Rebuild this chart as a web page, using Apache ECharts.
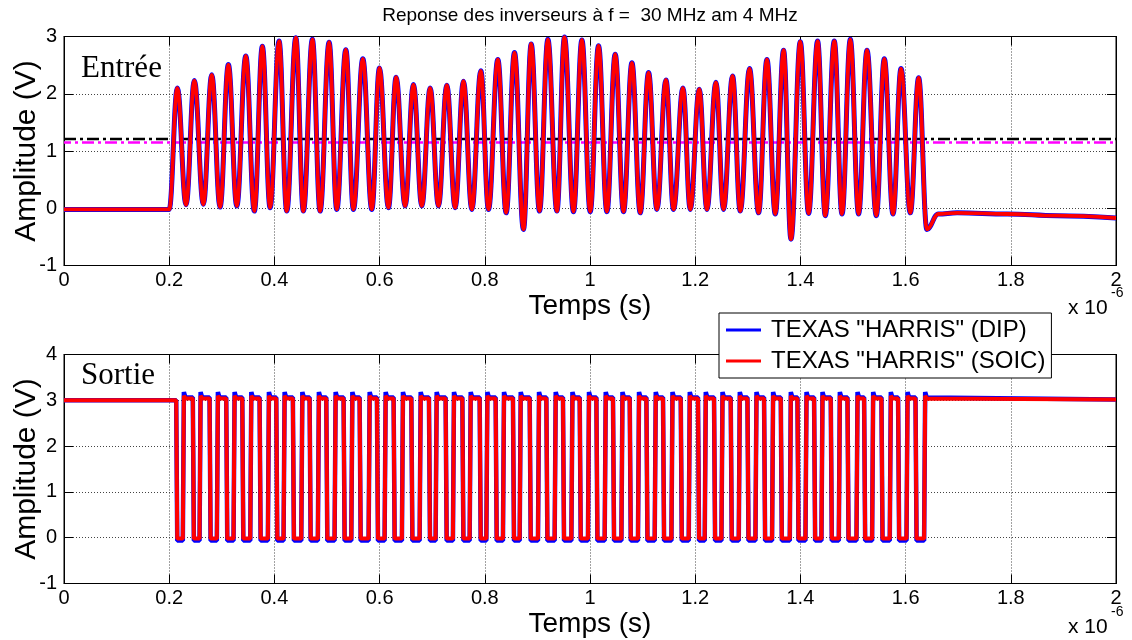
<!DOCTYPE html>
<html><head><meta charset="utf-8">
<script src="https://cdn.jsdelivr.net/npm/echarts@6/dist/echarts.min.js"></script>
<style>html,body{margin:0;padding:0;background:#fff}#c{width:1132px;height:640px}</style>
</head><body><div id="c"></div>
<script>
// ---------- data (time in µs, amplitude in V) ----------
const xTicks = [0, 0.2, 0.4, 0.6, 0.8, 1, 1.2, 1.4, 1.6, 1.8, 2];
const seriesNames = ['TEXAS "HARRIS" (DIP)', 'TEXAS "HARRIS" (SOIC)'];

// Input (Entrée): baseline before burst
const inLead = [[0, -0.02], [0.2, -0.02]];
// carrier peaks
const inPeakT = [0.2155,0.2478,0.2809,0.3125,0.3456,0.3771,0.4089,0.4407,0.4722,0.5040,0.5358,0.5681,0.5997,0.6314,0.6643,0.6961,0.7278,0.7594,0.7925,0.8248,0.8564,0.8882,0.9199,0.9515,0.9846,1.0162,1.0479,1.0797,1.1113,1.1444,1.1767,1.2077,1.2394,1.2710,1.3033,1.3364,1.3680,1.3998,1.4327,1.4644,1.4949,1.5266,1.5595,1.5913,1.6248];
const inPeakV = [2.10,2.23,2.33,2.51,2.66,2.83,2.92,2.98,2.95,2.90,2.77,2.61,2.45,2.29,2.16,2.10,2.15,2.22,2.40,2.60,2.72,2.87,2.95,2.99,2.94,2.84,2.69,2.54,2.37,2.24,2.10,2.08,2.20,2.31,2.44,2.60,2.76,2.91,2.92,2.92,2.95,2.76,2.61,2.44,2.28];
// carrier troughs (between peaks)
const inTroughT = [0.2320,0.2649,0.2967,0.3285,0.3619,0.3918,0.4235,0.4551,0.4869,0.5186,0.5502,0.5852,0.6168,0.6485,0.6803,0.7119,0.7436,0.7754,0.8070,0.8406,0.8735,0.9040,0.9371,0.9686,1.0004,1.0321,1.0637,1.0955,1.1272,1.1588,1.1906,1.2223,1.2539,1.2857,1.3205,1.3522,1.3821,1.4156,1.4473,1.4791,1.5106,1.5443,1.5761,1.6090];
const inTroughV = [0.06,0.07,0.02,0.04,-0.05,0.01,-0.05,-0.05,-0.05,-0.02,-0.02,-0.02,0.01,0.04,0.04,0.04,0.01,-0.02,-0.02,-0.08,-0.37,-0.05,-0.05,-0.06,-0.06,-0.06,-0.06,-0.08,-0.02,-0.02,-0.02,-0.02,-0.02,-0.05,-0.08,-0.10,-0.54,-0.09,-0.13,-0.10,-0.10,-0.13,-0.10,-0.08];
// after burst
const inTail = [[1.6405, -0.37], [1.662, -0.10], [1.698, -0.08], [1.793, -0.10], [1.888, -0.13], [2.0, -0.17]];
// threshold dash-dot lines
const thresholdBlack = 1.21;
const thresholdMagenta = 1.15;

// Output (Sortie): falling / rising edge times of each low pulse
const outFallT = [0.2143,0.2459,0.2777,0.3094,0.3399,0.3728,0.4045,0.4361,0.4679,0.4996,0.5325,0.5630,0.5959,0.6276,0.6613,0.6948,0.7265,0.7583,0.7912,0.8216,0.8545,0.8863,0.9180,0.9496,0.9814,1.0131,1.0447,1.0765,1.1082,1.1398,1.1735,1.2063,1.2368,1.2685,1.3003,1.3319,1.3637,1.3954,1.4270,1.4587,1.4905,1.5221,1.5551,1.5867,1.6198];
const outRiseT = [0.2269,0.2587,0.2916,0.3233,0.3551,0.3886,0.4184,0.4521,0.4836,0.5154,0.5472,0.5801,0.6105,0.6434,0.6771,0.7075,0.7404,0.7722,0.8039,0.8355,0.8673,0.9021,0.9338,0.9656,0.9971,1.0289,1.0607,1.0922,1.1240,1.1558,1.1887,1.2191,1.2509,1.2838,1.3155,1.3471,1.3808,1.4106,1.4410,1.4740,1.5076,1.5373,1.5709,1.6027,1.6362];
const outStartLevel = 3.0;
const outEndLevel = 3.02;
const soicLevels = {high: 3.04, over: 3.10, low: -0.02};
const dipLevels  = {high: 3.06, over: 3.18, low: -0.06};

// ---------- build series data from the arrays ----------
function buildInput() {
  const pts = inLead.slice();
  for (let i = 0; i < inPeakT.length; i++) {
    pts.push([inPeakT[i], inPeakV[i]]);
    if (i < inTroughT.length) pts.push([inTroughT[i], inTroughV[i]]);
  }
  return pts.concat(inTail);
}
function buildOutput(lv) {
  const e = 0.001;
  const pts = [[0, outStartLevel]];
  let level = outStartLevel;
  for (let i = 0; i < outFallT.length; i++) {
    pts.push([outFallT[i] - e, level]);
    pts.push([outFallT[i] + e, lv.low]);
    pts.push([outRiseT[i] - e, lv.low]);
    pts.push([outRiseT[i] + e, lv.over]);
    pts.push([outRiseT[i] + 4 * e, lv.high]);
    level = lv.high;
  }
  pts.push([2, outEndLevel]);
  return pts;
}
const inputData = buildInput();

const FONT = '"Liberation Sans", Arial, Helvetica, sans-serif';
const SERIF = '"Liberation Serif", "Times New Roman", serif';
const grids = [
  {left: 64, top: 36.5, width: 1052, height: 229, show: true, borderColor: '#000', borderWidth: 1, backgroundColor: '#fff',
   containLabel: false, outerBoundsMode: 'none'},
  {left: 64, top: 354.5, width: 1052, height: 229, show: true, borderColor: '#000', borderWidth: 1, backgroundColor: '#fff',
   containLabel: false, outerBoundsMode: 'none'}
];
const gridLine = {show: true, lineStyle: {color: '#444', type: [1, 2], width: 1}};
function xAxes(g) {
  return [
    {gridIndex: g, type: 'value', min: xTicks[0], max: xTicks[xTicks.length - 1], interval: 0.2, position: 'bottom',
     axisLine: {show: true, onZero: false, lineStyle: {color: '#000', width: 1}},
     axisTick: {show: true, inside: true, length: 9, lineStyle: {color: '#000'}},
     axisLabel: {show: true, fontSize: 20, color: '#000', margin: 5, fontFamily: FONT, showMinLabel: true, showMaxLabel: true},
     splitLine: gridLine,
     name: 'Temps (s)', nameLocation: 'middle', nameGap: 27, nameMoveOverlap: false,
     nameTextStyle: {fontSize: 28, color: '#000', fontFamily: FONT}},
    {gridIndex: g, type: 'value', min: 0, max: 2, interval: 0.2, position: 'top',
     axisLine: {show: true, onZero: false, lineStyle: {color: '#000'}},
     axisTick: {show: true, inside: true, length: 9, lineStyle: {color: '#000'}},
     axisLabel: {show: false}, splitLine: {show: false}}
  ];
}
function yAxes(g, min, max) {
  return [
    {gridIndex: g, type: 'value', min: min, max: max, interval: 1, position: 'left',
     axisLine: {show: true, onZero: false, lineStyle: {color: '#000'}},
     axisTick: {show: true, inside: true, length: 9, lineStyle: {color: '#000'}},
     axisLabel: {show: true, fontSize: 20, color: '#000', margin: 7, fontFamily: FONT, showMinLabel: true, showMaxLabel: true},
     splitLine: gridLine,
     name: 'Amplitude (V)', nameLocation: 'middle', nameGap: 22, nameRotate: 90, nameMoveOverlap: false,
     nameTextStyle: {fontSize: 30, color: '#000', fontFamily: FONT}},
    {gridIndex: g, type: 'value', min: min, max: max, interval: 1, position: 'right',
     axisLine: {show: true, onZero: false, lineStyle: {color: '#000'}},
     axisTick: {show: true, inside: true, length: 9, lineStyle: {color: '#000'}},
     axisLabel: {show: false}, splitLine: {show: false}}
  ];
}
const dashDot = [12, 4, 3, 4];
function txt(x, y, text, size, family, va) {
  return {type: 'text', x: x, y: y, z: 30,
          style: {text: text, verticalAlign: va || 'middle', fontSize: size, fontFamily: family, fill: '#000'}};
}

const option = {
  animation: false,
  backgroundColor: '#fff',
  grid: grids,
  xAxis: xAxes(0).concat(xAxes(1)),
  yAxis: yAxes(0, -1, 3).concat(yAxes(1, -1, 4)),
  legend: {
    data: seriesNames, orient: 'vertical', left: 719, top: 313,
    padding: [3, 6, 3, 7], itemGap: 3, itemWidth: 35, itemHeight: 3, icon: 'rect',
    backgroundColor: '#fff', borderColor: '#000', borderWidth: 1, z: 20,
    textStyle: {fontSize: 24, color: '#000', fontFamily: FONT, lineHeight: 28, padding: [0, 0, 0, 5]}
  },
  graphic: [
    {type: 'text', x: 590, y: 16, z: 30,
     style: {text: 'Reponse des inverseurs à f =  30 MHz am 4 MHz', align: 'center', verticalAlign: 'middle',
             fontSize: 19, fontFamily: FONT, fill: '#000'}},
    txt(81, 69, 'Entrée', 31, SERIF),
    txt(81, 376, 'Sortie', 31, SERIF),
    txt(1068, 308, 'x 10', 21, FONT),
    txt(1111, 293, '-6', 14, FONT),
    txt(1068, 627, 'x 10', 21, FONT),
    txt(1111, 612, '-6', 14, FONT)
  ],
  series: [
    {type: 'line', name: 'seuil1', xAxisIndex: 0, yAxisIndex: 0, data: [[0, thresholdBlack], [2, thresholdBlack]],
     showSymbol: false, symbol: 'none', lineStyle: {color: '#000', width: 2.5, type: dashDot}, z: 2, silent: true},
    {type: 'line', name: 'seuil2', xAxisIndex: 0, yAxisIndex: 0, data: [[0, thresholdMagenta], [2, thresholdMagenta]],
     showSymbol: false, symbol: 'none', lineStyle: {color: '#ff00ff', width: 2.5, type: dashDot, dashOffset: 5}, z: 2, silent: true},
    {type: 'line', name: seriesNames[0], xAxisIndex: 0, yAxisIndex: 0, data: inputData,
     smooth: 0.4, smoothMonotone: 'x', showSymbol: false, symbol: 'none', color: '#0000ff',
     lineStyle: {color: '#0000ff', width: 5}, z: 3},
    {type: 'line', name: seriesNames[1], xAxisIndex: 0, yAxisIndex: 0, data: inputData,
     smooth: 0.4, smoothMonotone: 'x', showSymbol: false, symbol: 'none', color: '#ff0000',
     lineStyle: {color: '#ff0000', width: 3.8}, z: 4},
    {type: 'line', name: seriesNames[0], xAxisIndex: 2, yAxisIndex: 2, data: buildOutput(dipLevels),
     showSymbol: false, symbol: 'none', color: '#0000ff', lineStyle: {color: '#0000ff', width: 4.5}, z: 3},
    {type: 'line', name: seriesNames[1], xAxisIndex: 2, yAxisIndex: 2, data: buildOutput(soicLevels),
     showSymbol: false, symbol: 'none', color: '#ff0000', lineStyle: {color: '#ff0000', width: 4}, z: 4}
  ]
};
const chart = echarts.init(document.getElementById('c'), null, {renderer: 'canvas'});
chart.setOption(option);
</script></body></html>
